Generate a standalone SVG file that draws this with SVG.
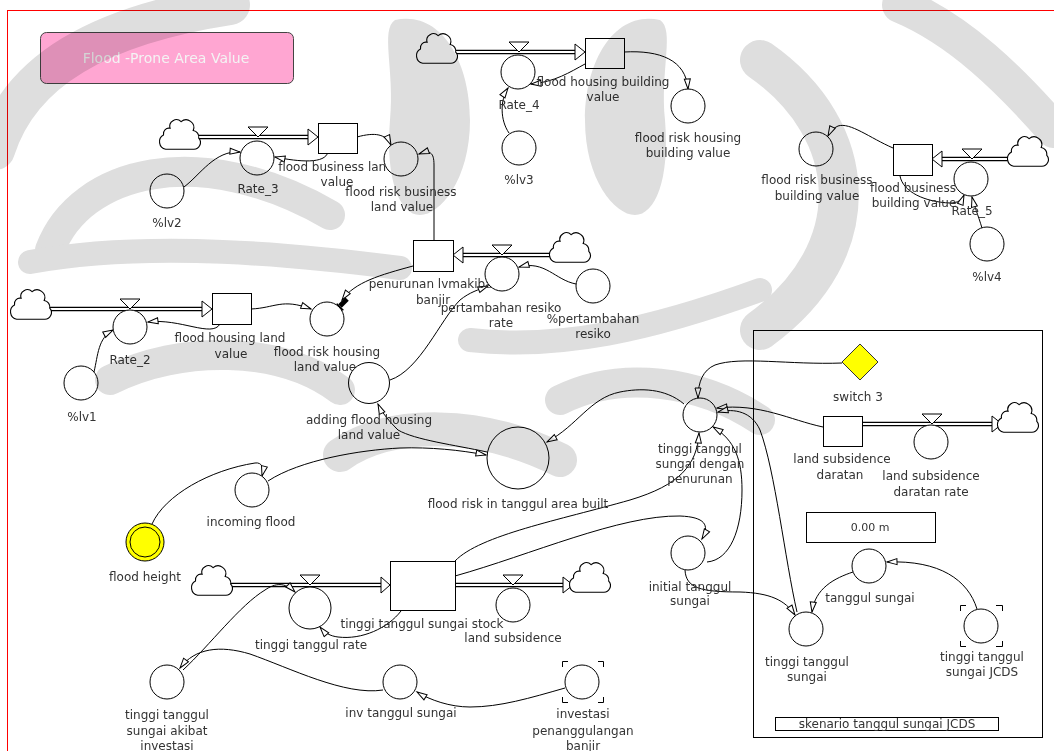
<svg xmlns="http://www.w3.org/2000/svg" width="1054" height="751" viewBox="0 0 1054 751">
<defs>
<style>
.lbl{font-family:"DejaVu Sans",Verdana,sans-serif;font-size:12px;fill:#333;text-anchor:middle}
.aux{fill:#fff;stroke:#000;stroke-width:1}
.stock{fill:#fff;stroke:#000;stroke-width:1}
.link{fill:none;stroke:#000;stroke-width:1;marker-end:url(#ah)}
.pipeo{fill:none;stroke:#000;stroke-width:4.5}
.pipei{fill:none;stroke:#fff;stroke-width:2}
.tri{fill:#fff;stroke:#000;stroke-width:1}
.cloud{fill:#fff;stroke:#000;stroke-width:1}
.brk{fill:none;stroke:#000;stroke-width:1}
.wm{fill:#d8d8d8}
.wms{fill:none;stroke:#d8d8d8;stroke-linecap:round}
</style>
<marker id="ah" markerUnits="userSpaceOnUse" markerWidth="14" markerHeight="10" refX="11" refY="4" orient="auto">
<path d="M1,1 L11,4 L1,7 z" fill="#fff" stroke="#000" stroke-width="1"/>
</marker>
<path id="cl" d="M-13,12 L12,12 A6,6 0 0 0 17,2 A6,6 0 0 0 12,-5 A7,7 0 0 0 1,-13 A6,6 0 0 0 -9,-7 A5,5 0 0 0 -15,-1 A7,7 0 0 0 -13,12 Z"/>
</defs>

<rect width="1054" height="751" fill="#fff"/>
<rect x="7.5" y="10.5" width="1100" height="800" fill="none" stroke="#f00" stroke-width="1"/>

<!-- title -->
<g id="title">
<rect x="40.5" y="32.5" width="253" height="51" rx="6" fill="#ffa6d2" stroke="#444" stroke-width="1"/>
<text x="166" y="63" style="font-family:'DejaVu Sans',Verdana,sans-serif;font-size:14px;fill:#f4f4f4;text-anchor:middle">Flood -Prone Area Value</text>
</g>

<!-- scenario panel -->
<g id="panel">
<rect x="753.5" y="330.5" width="289" height="407" fill="none" stroke="#000"/>
<rect x="806.5" y="512.5" width="129" height="30" fill="#fff" stroke="#000"/>
<text x="870" y="531" class="lbl" style="font-size:11px">0.00 m</text>
<rect x="775.5" y="717.5" width="223" height="13" fill="#fff" stroke="#000"/>
<text x="887" y="728" class="lbl">skenario tanggul sungai JCDS</text>
</g>

<!-- material flows -->
<g id="flows">
<path class="pipeo" d="M455,52H576 M199,137H309 M463,255H552 M50,309H203 M942,159H1010 M862,424H993 M230,585H383 M455,585H564"/>
<path class="pipei" d="M455,52H576 M199,137H309 M463,255H552 M50,309H203 M942,159H1010 M862,424H993 M230,585H383 M455,585H564"/>
<polygon class="tri" points="575,44 585,52 575,60"/>
<polygon class="tri" points="308,129 318,137 308,145"/>
<polygon class="tri" points="463,247 453,255 463,263"/>
<polygon class="tri" points="202,301 212,309 202,317"/>
<polygon class="tri" points="942,151 932,159 942,167"/>
<polygon class="tri" points="992,416 1002,424 992,432"/>
<polygon class="tri" points="381,577 390,585 381,593"/>
<polygon class="tri" points="563,577 573,585 563,593"/>
<use href="#cl" class="cloud" transform="translate(437,50) scale(1.1)"/>
<use href="#cl" class="cloud" transform="translate(180,136) scale(1.1)"/>
<use href="#cl" class="cloud" transform="translate(570,249) scale(1.1)"/>
<use href="#cl" class="cloud" transform="translate(31,306) scale(1.1)"/>
<use href="#cl" class="cloud" transform="translate(1028,153) scale(1.1)"/>
<use href="#cl" class="cloud" transform="translate(1018,419) scale(1.1)"/>
<use href="#cl" class="cloud" transform="translate(212,582) scale(1.1)"/>
<use href="#cl" class="cloud" transform="translate(590,579) scale(1.1)"/>
</g>

<!-- information links -->
<g id="connectors">
<path class="link" d="M509,133 C500,120 500,100 508,88"/>
<path class="link" d="M585,64 C570,72 555,82 531,84"/>
<path class="link" d="M624,52 C660,50 686,60 688,89"/>
<path class="link" d="M184,187 C200,175 215,150 240,152"/>
<path class="link" d="M328,152 C325,164 300,162 275,157"/>
<path class="link" d="M357,137 C375,132 386,134 391,145"/>
<path class="link" d="M434,240 L434,165 C434,152 430,150 419,154"/>
<path class="link" d="M576,284 C555,280 545,260 519,267"/>
<path class="link" d="M413,266 C380,275 355,282 342,300"/>
<path class="link" d="M220,324 C212,338 180,318 148,322"/>
<path class="link" d="M94,372 C98,355 98,338 113,330"/>
<path class="link" d="M251,309 C275,308 282,298 311,309"/>
<path class="link" d="M390,380 C420,370 440,320 460,300 C470,292 478,290 488,286"/>
<path class="link" d="M487,452 C455,445 415,440 398,430 C390,422 382,413 378,404"/>
<path class="link" d="M268,481 C300,460 360,450 400,448 C430,447 460,450 486,455"/>
<path class="link" d="M152,524 C165,495 210,470 255,463 C262,462 264,468 262,476"/>
<path class="link" d="M684,404 C665,388 640,388 620,392 C590,398 578,425 547,442"/>
<path class="link" d="M842,363 C790,365 740,356 715,365 C703,370 698,382 698,398"/>
<path class="link" d="M823,427 C790,420 760,403 717,408"/>
<path class="link" d="M797,612 C785,560 775,470 760,430 C752,412 735,408 718,412"/>
<path class="link" d="M707,562 C730,560 742,530 742,490 C742,460 735,440 713,427"/>
<path class="link" d="M455,561 C480,535 560,520 630,500 C680,485 697,465 699,433"/>
<path class="link" d="M455,576 C530,555 620,515 680,516 C705,517 710,525 702,539"/>
<path class="link" d="M685,570 C686,588 700,592 740,592 C770,593 785,600 795,615"/>
<path class="link" d="M853,572 C835,578 815,588 812,612"/>
<path class="link" d="M977,609 C968,580 940,560 887,562"/>
<path class="link" d="M401,611 C388,628 362,640 338,637 C330,636 325,633 320,627"/>
<path class="link" d="M183,670 C210,645 240,605 265,590 C275,583 285,582 295,592"/>
<path class="link" d="M383,690 C345,696 290,668 250,654 C220,645 195,648 180,668"/>
<path class="link" d="M565,688 C530,698 500,707 470,707 C450,707 430,700 417,692"/>
<path class="link" d="M893,148 C870,138 850,122 838,126 C833,128 830,132 828,136"/>
<path class="link" d="M900,176 C903,192 925,202 950,203 C958,203 962,200 964,195"/>
<path class="link" d="M982,228 C978,215 974,205 972,197"/>
<!-- polarity marker on the penurunan link -->
<path d="M347,299 L340,306" stroke="#000" stroke-width="5"/>
<polygon points="333,314 344,310 337,303" fill="#000"/>
</g>

<!-- flood housing building value -->
<g id="n-fhbv"><rect class="stock" x="585.5" y="38.5" width="39" height="30"/><text class="lbl" x="603" y="86">flood housing building</text><text class="lbl" x="603" y="101">value</text></g>
<g id="n-rate4"><polygon class="tri" points="509,42 529,42 519,52"/><circle class="aux" cx="518" cy="72" r="17"/><text class="lbl" x="519" y="109">Rate_4</text></g>
<g id="n-frhbv"><circle class="aux" cx="688" cy="106" r="17"/><text class="lbl" x="688" y="142">flood risk housing</text><text class="lbl" x="688" y="157">building value</text></g>
<g id="n-lv3"><circle class="aux" cx="519" cy="148" r="17"/><text class="lbl" x="519" y="184">%lv3</text></g>

<!-- flood business land value -->
<g id="n-fblv"><rect class="stock" x="318.5" y="123.5" width="39" height="30"/><text class="lbl" x="336" y="171">flood business land</text><text class="lbl" x="337" y="186">value</text></g>
<g id="n-rate3"><polygon class="tri" points="248,127 268,127 258,137"/><circle class="aux" cx="257" cy="158" r="17"/><text class="lbl" x="258" y="193">Rate_3</text></g>
<g id="n-lv2"><circle class="aux" cx="167" cy="191" r="17"/><text class="lbl" x="167" y="227">%lv2</text></g>
<g id="n-frblv"><circle class="aux" cx="401" cy="159" r="17"/><text class="lbl" x="401" y="196">flood risk business</text><text class="lbl" x="402" y="211">land value</text></g>

<!-- penurunan -->
<g id="n-penurunan"><rect class="stock" x="413.5" y="240.5" width="40" height="31"/><text class="lbl" x="433" y="288">penurunan lvmakibat</text><text class="lbl" x="433" y="304">banjir</text></g>
<g id="n-prrate"><polygon class="tri" points="492,245 512,245 502,255"/><circle class="aux" cx="502" cy="274" r="17"/><text class="lbl" x="501" y="312">pertambahan resiko</text><text class="lbl" x="501" y="327">rate</text></g>
<g id="n-ppr"><circle class="aux" cx="593" cy="286" r="17"/><text class="lbl" x="593" y="323">%pertambahan</text><text class="lbl" x="593" y="338">resiko</text></g>

<!-- flood housing land value -->
<g id="n-fhlv"><rect class="stock" x="212.5" y="293.5" width="39" height="31"/><text class="lbl" x="230" y="342">flood housing land</text><text class="lbl" x="231" y="358">value</text></g>
<g id="n-rate2"><polygon class="tri" points="120,299 140,299 130,309"/><circle class="aux" cx="130" cy="327" r="17"/><text class="lbl" x="130" y="364">Rate_2</text></g>
<g id="n-lv1"><circle class="aux" cx="81" cy="383" r="17"/><text class="lbl" x="82" y="421">%lv1</text></g>
<g id="n-frhlv"><circle class="aux" cx="327" cy="319" r="17"/><text class="lbl" x="327" y="356">flood risk housing</text><text class="lbl" x="325" y="371">land value</text></g>
<g id="n-adding"><circle class="aux" cx="369" cy="383" r="20.5"/><text class="lbl" x="369" y="424">adding flood housing</text><text class="lbl" x="369" y="439">land value</text></g>

<!-- flood risk in tanggul area -->
<g id="n-frta"><circle class="aux" cx="518" cy="458" r="31"/><text class="lbl" x="518" y="508">flood risk in tanggul area built</text></g>
<g id="n-incoming"><circle class="aux" cx="252" cy="490" r="17"/><text class="lbl" x="251" y="526">incoming flood</text></g>
<g id="n-height"><circle cx="145" cy="542" r="19" fill="#ffff00" stroke="#000"/><circle cx="145" cy="542" r="15" fill="#ffff00" stroke="#000"/><text class="lbl" x="145" y="581">flood height</text></g>

<!-- tinggi tanggul sungai stock -->
<g id="n-tts"><rect class="stock" x="390.5" y="561.5" width="65" height="49"/><text class="lbl" x="422" y="628">tinggi tanggul sungai stock</text></g>
<g id="n-ttrate"><polygon class="tri" points="300,575 320,575 310,585"/><circle class="aux" cx="310" cy="608" r="21"/><text class="lbl" x="311" y="649">tinggi tanggul rate</text></g>
<g id="n-ls"><polygon class="tri" points="503,575 523,575 513,585"/><circle class="aux" cx="513" cy="605" r="17"/><text class="lbl" x="513" y="642">land subsidence</text></g>
<g id="n-akibat"><circle class="aux" cx="167" cy="682" r="17"/><text class="lbl" x="167" y="719">tinggi tanggul</text><text class="lbl" x="167" y="735">sungai akibat</text><text class="lbl" x="167" y="750">investasi</text></g>
<g id="n-inv"><circle class="aux" cx="400" cy="682" r="17"/><text class="lbl" x="401" y="717">inv tanggul sungai</text></g>
<g id="n-investasi"><circle class="aux" cx="582" cy="682" r="17"/><path class="brk" d="M562.5,667V661.5H568 M598,661.5H603.5V667 M603.5,697V702.5H598 M568,702.5H562.5V697"/><text class="lbl" x="583" y="718">investasi</text><text class="lbl" x="583" y="735">penanggulangan</text><text class="lbl" x="583" y="750">banjir</text></g>

<!-- tanggul heights -->
<g id="n-ttsdp"><circle class="aux" cx="700" cy="415" r="17"/><text class="lbl" x="700" y="453">tinggi tanggul</text><text class="lbl" x="700" y="468">sungai dengan</text><text class="lbl" x="700" y="483">penurunan</text></g>
<g id="n-initial"><circle class="aux" cx="688" cy="553" r="17"/><text class="lbl" x="690" y="591">initial tanggul</text><text class="lbl" x="690" y="605">sungai</text></g>
<g id="n-switch"><polygon points="860,344 878,362 860,380 842,362" fill="#ffff00" stroke="#333"/><text class="lbl" x="858" y="401">switch 3</text></g>
<g id="n-lsd"><rect class="stock" x="823.5" y="416.5" width="39" height="30"/><text class="lbl" x="842" y="463">land subsidence</text><text class="lbl" x="840" y="479">daratan</text></g>
<g id="n-lsdrate"><polygon class="tri" points="922,414 942,414 932,424"/><circle class="aux" cx="931" cy="442" r="17"/><text class="lbl" x="931" y="480">land subsidence</text><text class="lbl" x="931" y="496">daratan rate</text></g>
<g id="n-tanggul"><circle class="aux" cx="869" cy="566" r="17"/><text class="lbl" x="870" y="602">tanggul sungai</text></g>
<g id="n-ttsungai"><circle class="aux" cx="806" cy="629" r="17"/><text class="lbl" x="807" y="666">tinggi tanggul</text><text class="lbl" x="807" y="681">sungai</text></g>
<g id="n-jcds"><circle class="aux" cx="981" cy="626" r="17"/><path class="brk" d="M960.5,611V605.5H966 M996,605.5H1002.5V611 M1002.5,641V646.5H996 M966,646.5H960.5V641"/><text class="lbl" x="982" y="661">tinggi tanggul</text><text class="lbl" x="982" y="676">sungai JCDS</text></g>

<!-- flood business building value -->
<g id="n-fbbv"><rect class="stock" x="893.5" y="144.5" width="39" height="31"/><text class="lbl" x="913" y="192">flood business</text><text class="lbl" x="914" y="207">building value</text></g>
<g id="n-rate5"><polygon class="tri" points="962,149 982,149 972,159"/><circle class="aux" cx="971" cy="179" r="17"/><text class="lbl" x="972" y="215">Rate_5</text></g>
<g id="n-frbbv"><circle class="aux" cx="816" cy="149" r="17"/><text class="lbl" x="817" y="184">flood risk business</text><text class="lbl" x="817" y="200">building value</text></g>
<g id="n-lv4"><circle class="aux" cx="987" cy="244" r="17"/><text class="lbl" x="987" y="281">%lv4</text></g>

<!-- background emblem, multiplied over the drawing -->
<g id="emblem" style="mix-blend-mode:multiply" opacity="0.85">
<path class="wms" stroke-width="40" d="M-5,150 C20,70 100,25 230,5"/>
<path class="wms" stroke-width="30" d="M50,250 C80,170 200,140 330,215"/>
<path class="wms" stroke-width="24" d="M30,262 C150,240 300,255 400,268"/>
<path class="wms" stroke-width="30" d="M110,380 C180,345 280,345 340,390"/>
<path class="wms" stroke-width="24" d="M470,340 C560,350 650,330 760,290"/>
<path class="wms" stroke-width="34" d="M340,455 C390,420 480,420 560,460"/>
<path class="wms" stroke-width="30" d="M560,400 C620,370 700,380 760,420"/>
<path class="wm" d="M395,20 C440,10 470,60 470,120 C470,180 440,215 420,215 C400,215 385,180 390,120 C395,70 380,30 395,20 Z"/>
<path class="wm" d="M660,20 C615,10 585,60 585,120 C585,180 615,215 635,215 C655,215 670,180 665,120 C660,70 675,30 660,20 Z"/>
<path class="wms" stroke-width="40" d="M760,60 C860,130 870,250 760,330"/>
<path class="wms" stroke-width="36" d="M900,5 C960,30 1010,80 1054,130"/>
</g>
</svg>
